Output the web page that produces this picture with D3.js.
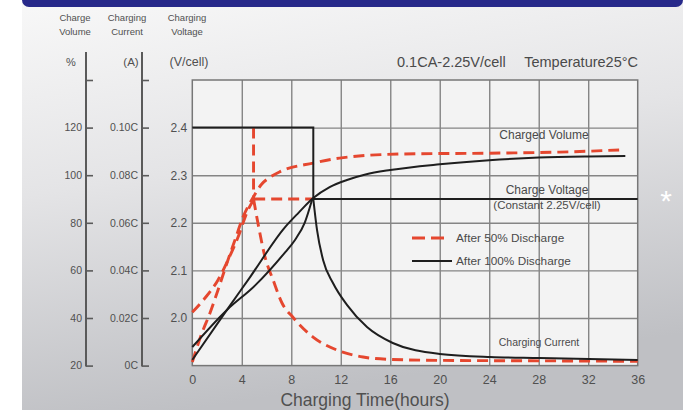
<!DOCTYPE html>
<html><head><meta charset="utf-8">
<script src="https://cdn.jsdelivr.net/npm/d3@7"></script>
<style>
html,body{margin:0;padding:0;background:#fff;}
svg{display:block;font-family:"Liberation Sans",Arial,sans-serif;}
</style>
</head><body>
<svg id="chart" width="694" height="410"></svg>
<script>
// ---------- data ----------
const hourTicks = [0, 4, 8, 12, 16, 20, 24, 28, 32, 36];
const voltTicks = [2.0, 2.1, 2.2, 2.3, 2.4];
const voltTickLabels = ["2.0", "2.1", "2.2", "2.3", "2.4"];
const volumeTicks = [20, 40, 60, 80, 100, 120, 140];
const volumeTickLabels = ["20", "40", "60", "80", "100", "120", ""];
const currentTicks = [0, 0.02, 0.04, 0.06, 0.08, 0.10, 0.12];
const currentTickLabels = ["0C", "0.02C", "0.04C", "0.06C", "0.08C", "0.10C", ""];

// After 100% discharge (black)
const v100RiseH = [0, 2.8, 5.1, 7.5, 8.3, 9.1, 9.7];
const v100RiseV = [1.939, 2.017, 2.069, 2.138, 2.164, 2.201, 2.25];
const v100HoldH = [9.7, 36];
const v100HoldV = [2.25, 2.25];
const c100StepH = [0, 9.78, 9.78];
const c100StepC = [0.10, 0.10, 0.07];
const c100DecayH = [9.78, 10.08, 10.57, 11.37, 12.5, 14.12, 16.2, 20, 24.1, 28.1, 36];
const c100DecayC = [0.07, 0.057, 0.0444, 0.0347, 0.0255, 0.0162, 0.0095, 0.0049, 0.0036, 0.0032, 0.0024];
const vol100H = [0, 2.8, 4.67, 7.5, 8.62, 9.75, 11.1, 12.5, 14, 16, 20, 24, 28, 32, 35];
const vol100P = [22.4, 43.4, 57.2, 78.2, 84.4, 90.3, 95.0, 98.0, 100.3, 102.2, 104.6, 106.3, 107.4, 107.9, 108.1];

// After 50% discharge (red dashed)
const v50RiseH = [0, 1.03, 2.08, 2.89, 3.7, 4.5, 5.0];
const v50RiseV = [2.012, 2.042, 2.080, 2.122, 2.170, 2.227, 2.25];
const v50HoldH = [5.0, 9.7];
const v50HoldV = [2.25, 2.25];
const c50StepH = [4.95, 4.95];
const c50StepC = [0.10, 0.07];
const c50DecayH = [4.95, 5.3, 5.88, 6.53, 7.25, 8.13, 9.76, 11.7, 13.8, 16, 20, 28, 36];
const c50DecayC = [0.07, 0.06, 0.0456, 0.036, 0.0263, 0.0203, 0.012, 0.0065, 0.0036, 0.0026, 0.0022, 0.002, 0.0018];
const vol50H = [0, 0.78, 1.43, 2.08, 2.8, 3.45, 4.1, 4.9, 5.6, 6.3, 7.09, 9.76, 11.9, 16.8, 24.9, 29.7, 34.5];
const vol50P = [21.5, 33.7, 42.1, 51.8, 63.1, 72.8, 82.4, 90.5, 96.2, 99.2, 101.5, 105.1, 107.2, 108.9, 109.3, 109.7, 110.6];

// ---------- layout ----------
const svg = d3.select("#chart");
const X0 = 192.3, X1 = 637.7, YT = 80, YB = 365.6;
const x = d3.scaleLinear().domain([0, 36]).range([X0, X1]);
const yV = d3.scaleLinear().domain([1.9, 2.5]).range([YB, YT]);
const yP = d3.scaleLinear().domain([20, 140]).range([YB, YT]);
const yC = d3.scaleLinear().domain([0, 0.12]).range([YB, YT]);

const defs = svg.append("defs");
const bg = defs.append("linearGradient").attr("id", "bg").attr("x1", 0).attr("y1", 0).attr("x2", 0.25).attr("y2", 1);
bg.append("stop").attr("offset", "0%").attr("stop-color", "#f8f8f8");
bg.append("stop").attr("offset", "45%").attr("stop-color", "#e4e4e6");
bg.append("stop").attr("offset", "100%").attr("stop-color", "#bfc0c4");

svg.append("rect").attr("x", 22).attr("y", 0).attr("width", 661).attr("height", 410).attr("fill", "url(#bg)");
svg.append("rect").attr("x", 22).attr("y", -8).attr("width", 661).attr("height", 15).attr("rx", 7).attr("fill", "#27298a");

const textCol = "#505050";

// plot area
svg.append("rect").attr("x", X0).attr("y", YT).attr("width", X1 - X0).attr("height", YB - YT)
  .attr("fill", "#f3f3f3");

// grid via axes
const gx = svg.append("g").attr("transform", `translate(0,${YB})`)
  .call(d3.axisBottom(x).tickValues(hourTicks.slice(1, -1)).tickSize(-(YB - YT)).tickFormat(""));
gx.select(".domain").remove();
gx.selectAll(".tick line").attr("stroke", "#858585").attr("stroke-width", 1.4);
const gy = svg.append("g").attr("transform", `translate(${X0},0)`)
  .call(d3.axisLeft(yV).tickValues(voltTicks).tickSize(-(X1 - X0)).tickPadding(5)
    .tickFormat(d => voltTickLabels[voltTicks.indexOf(d)]));
gy.select(".domain").remove();
gy.selectAll(".tick line").attr("stroke", "#858585").attr("stroke-width", 1.4);
gy.selectAll(".tick text").attr("fill", textCol).attr("font-size", 12).attr("font-family", null);

svg.append("rect").attr("x", X0).attr("y", YT).attr("width", X1 - X0).attr("height", YB - YT)
  .attr("fill", "none").attr("stroke", "#777").attr("stroke-width", 1.5);

// x axis labels
const xa = svg.append("g").attr("transform", `translate(0,${YB})`)
  .call(d3.axisBottom(x).tickValues(hourTicks).tickSize(0).tickPadding(10));
xa.select(".domain").remove();
xa.selectAll(".tick text").attr("fill", textCol).attr("font-size", 12.5).attr("font-family", null);

svg.append("text").attr("x", 365).attr("y", 406).attr("text-anchor", "middle")
  .attr("font-size", 17.5).attr("fill", textCol).text("Charging Time(hours)");

// left axes
function sideAxis(xPos, scale, ticks, labels) {
  const g = svg.append("g").attr("transform", `translate(${xPos},0)`)
    .call(d3.axisLeft(scale).tickValues(ticks).tickSizeInner(-7).tickSizeOuter(0).tickPadding(4)
      .tickFormat(d => labels[ticks.indexOf(d)]));
  g.select(".domain").remove();
  g.append("line").attr("x1", 0).attr("x2", 0).attr("y1", 52).attr("y2", YB + 0.8)
    .attr("stroke", "#5a5a5a").attr("stroke-width", 2);
  g.selectAll(".tick line").attr("stroke", "#5a5a5a").attr("stroke-width", 1.6);
  g.selectAll(".tick text").attr("fill", textCol).attr("font-size", 10.5).attr("font-family", null);
}
sideAxis(86, yP, volumeTicks, volumeTickLabels);
sideAxis(142, yC, currentTicks, currentTickLabels);

// unit labels
const unit = (t, xx, anchor, fs) => svg.append("text").attr("x", xx).attr("y", 66).attr("text-anchor", anchor)
  .attr("font-size", fs).attr("fill", textCol).text(t);
unit("%", 71, "middle", 11);
unit("(A)", 131, "middle", 11.5);
unit("(V/cell)", 189, "middle", 12.5);

// header labels
const head = (l1, l2, cx) => {
  svg.append("text").attr("x", cx).attr("y", 21).attr("text-anchor", "middle").attr("font-size", 9.5).attr("fill", textCol).text(l1);
  svg.append("text").attr("x", cx).attr("y", 35).attr("text-anchor", "middle").attr("font-size", 9.5).attr("fill", textCol).text(l2);
};
head("Charge", "Volume", 75);
head("Charging", "Current", 127);
head("Charging", "Voltage", 187);

// title
svg.append("text").attr("x", 397).attr("y", 67).attr("font-size", 14.5)
  .attr("fill", "#4a4a4a").text("0.1CA-2.25V/cell");
svg.append("text").attr("x", 638).attr("y", 67).attr("text-anchor", "end").attr("font-size", 14.5)
  .attr("fill", "#4a4a4a").text("Temperature25\u00b0C");

// ---------- series ----------
const RED = "#e5472f", BLK = "#1e1e1e";
function draw(hs, vs, scale, style, curve) {
  const pts = hs.map((h, i) => [x(h), scale(vs[i])]);
  const line = d3.line().curve(curve || d3.curveMonotoneX);
  const p = svg.append("path").attr("d", line(pts)).attr("fill", "none");
  if (style === "red") p.attr("stroke", RED).attr("stroke-width", 2.9).attr("stroke-dasharray", "11,6");
  else p.attr("stroke", BLK).attr("stroke-width", 2);
  return p;
}
// red (50%)
draw(v50RiseH, v50RiseV, yV, "red");
draw(v50HoldH, v50HoldV, yV, "red", d3.curveLinear);
draw(c50StepH, c50StepC, yC, "red", d3.curveLinear);
draw(c50DecayH, c50DecayC, yC, "red");
draw(vol50H, vol50P, yP, "red");
// black (100%)
draw(v100RiseH, v100RiseV, yV, "black");
draw(v100HoldH, v100HoldV, yV, "black", d3.curveLinear);
draw(c100StepH, c100StepC, yC, "black", d3.curveLinear);
draw(c100DecayH, c100DecayC, yC, "black");
draw(vol100H, vol100P, yP, "black");

// ---------- annotations ----------
const note = (t, xx, yy, fs) => svg.append("text").attr("x", xx).attr("y", yy).attr("text-anchor", "middle")
  .attr("font-size", fs).attr("fill", "#4a4a4a").text(t);
note("Charged Volume", 544, 139, 12);
note("Charge Voltage", 547, 194, 12);
note("(Constant 2.25V/cell)", 547, 209, 11.5);
note("Charging Current", 539, 346, 10.5);

// legend
svg.append("line").attr("x1", 412).attr("x2", 450).attr("y1", 238).attr("y2", 238)
  .attr("stroke", RED).attr("stroke-width", 2.9).attr("stroke-dasharray", "13,6");
svg.append("line").attr("x1", 412).attr("x2", 452).attr("y1", 261).attr("y2", 261)
  .attr("stroke", BLK).attr("stroke-width", 2);
svg.append("text").attr("x", 456).attr("y", 242).attr("font-size", 11.8).attr("fill", "#4a4a4a").text("After 50% Discharge");
svg.append("text").attr("x", 456).attr("y", 265).attr("font-size", 11.8).attr("fill", "#4a4a4a").text("After 100% Discharge");

// asterisk
svg.append("text").attr("x", 666).attr("y", 211).attr("text-anchor", "middle").attr("font-size", 30)
  .attr("fill", "#ffffff").text("*");
</script>
</body></html>
